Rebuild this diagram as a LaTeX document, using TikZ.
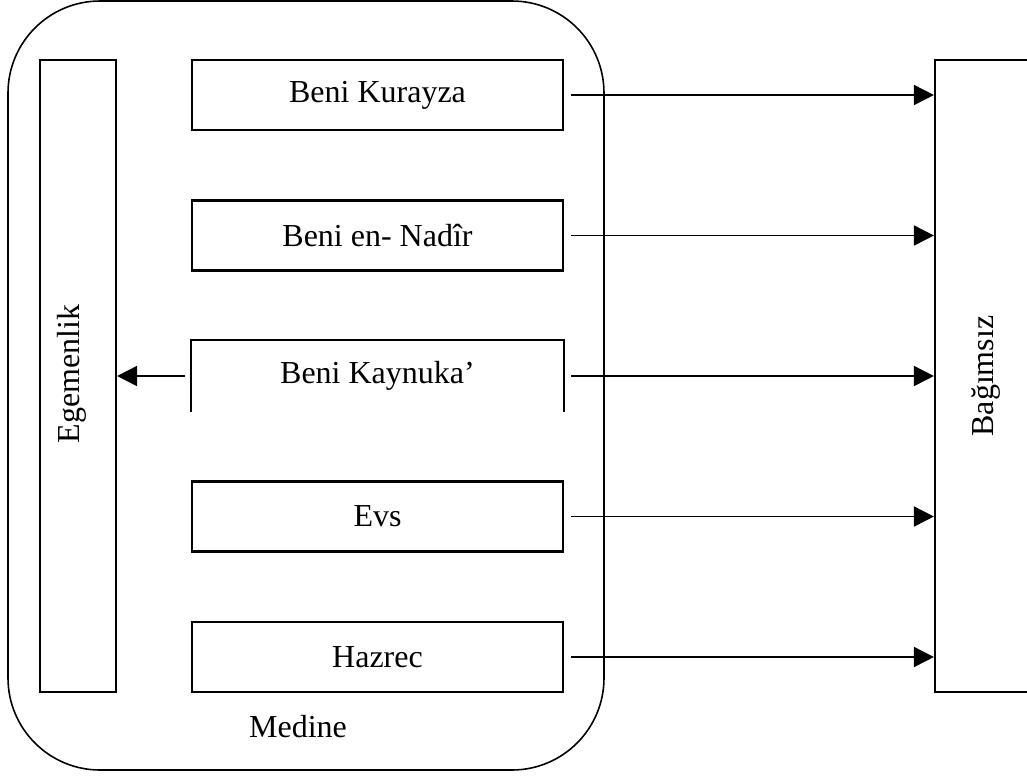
\documentclass[tikz,border=0pt]{standalone}
\usepackage{fontspec}
\setmainfont{Liberation Serif}
\usetikzlibrary{arrows.meta, positioning}

\tikzset{
  kutu/.style={draw, line width=0.6pt, minimum width=3.71cm, minimum height=0.70cm, inner sep=0pt},
  yankutu/.style={draw, line width=0.6pt, minimum height=6.32cm, inner sep=0pt},
  ok/.style={-{Triangle[length=2mm,width=2mm]}, line width=0.5pt},
}

\begin{document}
\begin{tikzpicture}[x=0.01cm, y=-0.01cm, font=\fontsize{9.1}{11}\selectfont]
        \useasboundingbox (0,0) rectangle (1027,775);

        % Medine
        \draw[line width=0.45pt, rounded corners=0.92cm] (8,1) rectangle (604,770);
        \node (med) at (298,727) {Medine};

        % side boxes
        \node[yankutu, minimum width=0.76cm] (ege) at (78,376) {};
        \node[rotate=90] (egeyazi) at (72,374) {Egemenlik};
        \node[yankutu, minimum width=1.2cm] (bag) at (995,376) {};
        \node[rotate=90] (bagyazi) at (986,376) {Bağımsız};

        % tribes
        \node[kutu] (kur) at (377.5,95) {Beni Kurayza};
        \node[kutu] (nad) at (377.5,235.5) {Beni en- Nadîr};
        \node[kutu, draw=none] (kay) at (377.5,376) {Beni Kaynuka’};
        \draw[line width=0.6pt] (kay.south west) -- (kay.north west) -- (kay.north east) -- (kay.south east);
        \node[kutu] (evs) at (377.5,516.5) {Evs};
        \node[kutu] (haz) at (377.5,657) {Hazrec};

        \foreach \k in {kur, nad, kay, evs, haz}
          \draw[ok] ([xshift=0.07cm]\k.east) -- (\k.east -| bag.west);
        \draw[ok] ([xshift=-0.06cm]kay.west) -- (kay.west -| ege.east);
    \end{tikzpicture}
\end{document}
